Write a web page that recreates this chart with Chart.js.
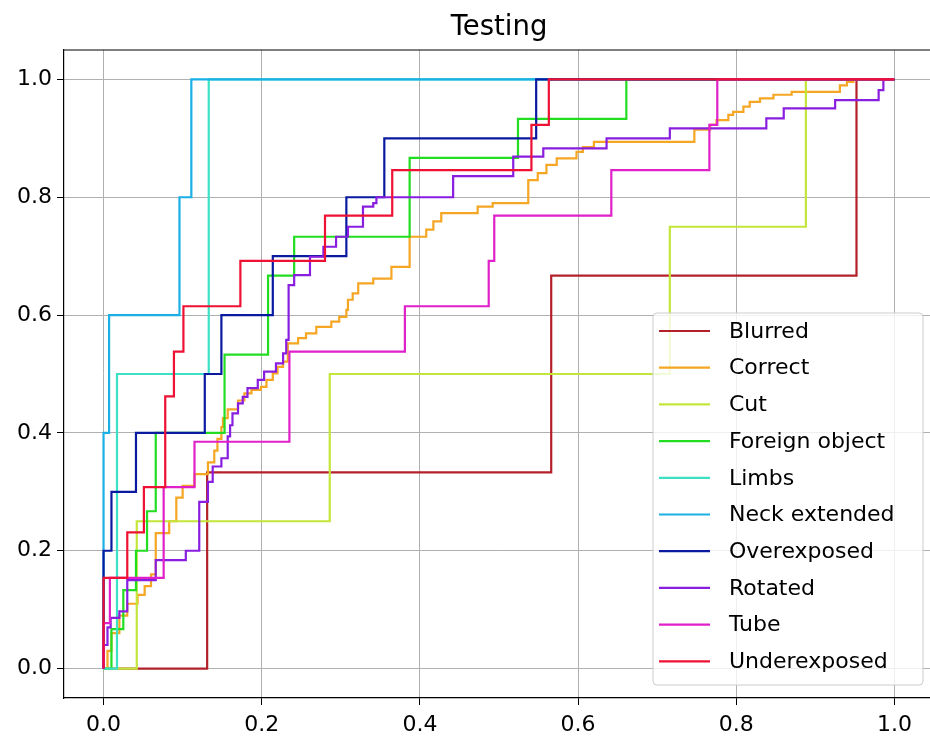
<!DOCTYPE html>
<html>
<head>
<meta charset="utf-8">
<script src="https://cdn.jsdelivr.net/npm/chart.js@4.4.1/dist/chart.umd.min.js"></script>
<style>
  html, body { margin: 0; padding: 0; background: #fff; overflow: hidden; }
  #wrap { width: 940px; height: 740px; }
</style>
</head>
<body>
<div id="wrap"><canvas id="roc" width="940" height="740"></canvas></div>
<script>
// classes and their line colours
const labels = ['Blurred', 'Correct', 'Cut', 'Foreign object', 'Limbs', 'Neck extended',
                'Overexposed', 'Rotated', 'Tube', 'Underexposed'];
const colors = ['#b3202a', '#f5a623', '#c4e63a', '#22dd22', '#3ce0c4', '#1ab0e6',
                '#0a1aa0', '#8a1ee0', '#e020c8', '#ee1133'];

const xTicks = [0.0, 0.2, 0.4, 0.6, 0.8, 1.0];
const yTicks = [0.0, 0.2, 0.4, 0.6, 0.8, 1.0];

// ROC vertices (false positive rate / true positive rate)
const blurredFpr = [0, 0.131, 0.131, 0.566, 0.566, 0.952, 0.952, 1];
const blurredTpr = [0, 0, 0.333, 0.333, 0.667, 0.667, 1, 1];

const correctFpr = [0, 0.005, 0.005, 0.01, 0.01, 0.02, 0.02, 0.03, 0.03, 0.043, 0.043, 0.052, 0.052, 0.06, 0.06,
  0.066, 0.066, 0.083, 0.083, 0.092, 0.092, 0.1, 0.1, 0.115, 0.115, 0.132, 0.132, 0.14, 0.14, 0.144, 0.144,
  0.149, 0.149, 0.151, 0.151, 0.157, 0.157, 0.17, 0.17, 0.178, 0.178, 0.187, 0.187, 0.199, 0.199, 0.206, 0.206,
  0.214, 0.214, 0.22, 0.22, 0.227, 0.227, 0.233, 0.233, 0.246, 0.246, 0.256, 0.256, 0.269, 0.269, 0.288, 0.288,
  0.298, 0.298, 0.307, 0.307, 0.309, 0.309, 0.315, 0.315, 0.322, 0.322, 0.341, 0.341, 0.364, 0.364, 0.387, 0.387,
  0.408, 0.408, 0.417, 0.417, 0.427, 0.427, 0.473, 0.473, 0.492, 0.492, 0.537, 0.537, 0.549, 0.549, 0.56, 0.56,
  0.573, 0.573, 0.598, 0.598, 0.606, 0.606, 0.62, 0.62, 0.747, 0.747, 0.767, 0.767, 0.775, 0.775, 0.79, 0.79,
  0.796, 0.796, 0.809, 0.809, 0.817, 0.817, 0.83, 0.83, 0.847, 0.847, 0.87, 0.87, 0.931, 0.931, 0.94, 0.94,
  0.948, 0.948, 1];
const correctTpr = [0, 0, 0.03, 0.03, 0.06, 0.06, 0.09, 0.09, 0.11, 0.11, 0.125, 0.125, 0.14, 0.14, 0.16,
  0.16, 0.23, 0.23, 0.25, 0.25, 0.29, 0.29, 0.31, 0.31, 0.33, 0.33, 0.35, 0.35, 0.37, 0.37, 0.39,
  0.39, 0.41, 0.41, 0.425, 0.425, 0.44, 0.44, 0.455, 0.455, 0.467, 0.467, 0.473, 0.473, 0.478, 0.478, 0.49,
  0.49, 0.501, 0.501, 0.512, 0.512, 0.521, 0.521, 0.552, 0.552, 0.561, 0.561, 0.569, 0.569, 0.58, 0.58, 0.589,
  0.589, 0.597, 0.597, 0.609, 0.609, 0.626, 0.626, 0.637, 0.637, 0.654, 0.654, 0.662, 0.662, 0.682, 0.682, 0.733,
  0.733, 0.745, 0.745, 0.759, 0.759, 0.773, 0.773, 0.784, 0.784, 0.79, 0.79, 0.829, 0.829, 0.841, 0.841, 0.855,
  0.855, 0.866, 0.866, 0.877, 0.877, 0.885, 0.885, 0.894, 0.894, 0.915, 0.915, 0.923, 0.923, 0.931, 0.931, 0.94,
  0.94, 0.945, 0.945, 0.954, 0.954, 0.962, 0.962, 0.968, 0.968, 0.974, 0.974, 0.979, 0.979, 0.99, 0.99, 0.996,
  0.996, 1, 1];

const cutFpr = [0, 0.042, 0.042, 0.286, 0.286, 0.716, 0.716, 0.888, 0.888, 1];
const cutTpr = [0, 0, 0.25, 0.25, 0.5, 0.5, 0.75, 0.75, 1, 1];

const foreignFpr = [0, 0.01, 0.01, 0.025, 0.025, 0.041, 0.041, 0.055, 0.055, 0.066, 0.066, 0.153, 0.153,
  0.208, 0.208, 0.241, 0.241, 0.387, 0.387, 0.524, 0.524, 0.661, 0.661, 1];
const foreignTpr = [0, 0, 0.067, 0.067, 0.133, 0.133, 0.2, 0.2, 0.267, 0.267, 0.4, 0.4, 0.533,
  0.533, 0.667, 0.667, 0.733, 0.733, 0.867, 0.867, 0.933, 0.933, 1, 1];

const limbsFpr = [0, 0.017, 0.017, 0.133, 0.133, 1];
const limbsTpr = [0, 0, 0.5, 0.5, 1, 1];

const neckFpr = [0, 0, 0.007, 0.007, 0.096, 0.096, 0.111, 0.111, 1];
const neckTpr = [0, 0.4, 0.4, 0.6, 0.6, 0.8, 0.8, 1, 1];

const overFpr = [0, 0, 0.01, 0.01, 0.041, 0.041, 0.128, 0.128, 0.149, 0.149, 0.214, 0.214, 0.307, 0.307,
  0.355, 0.355, 0.547, 0.547, 1];
const overTpr = [0, 0.2, 0.2, 0.3, 0.3, 0.4, 0.4, 0.5, 0.5, 0.6, 0.6, 0.7, 0.7, 0.8,
  0.8, 0.9, 0.9, 1, 1];

const rotatedFpr = [0, 0, 0.005, 0.005, 0.009, 0.009, 0.02, 0.02, 0.03, 0.03, 0.066, 0.066, 0.104, 0.104,
  0.121, 0.121, 0.132, 0.132, 0.138, 0.138, 0.149, 0.149, 0.157, 0.157, 0.16, 0.16, 0.163, 0.163, 0.17, 0.17,
  0.176, 0.176, 0.182, 0.182, 0.195, 0.195, 0.203, 0.203, 0.218, 0.218, 0.227, 0.227, 0.231, 0.231, 0.234, 0.234,
  0.241, 0.241, 0.261, 0.261, 0.278, 0.278, 0.294, 0.294, 0.309, 0.309, 0.328, 0.328, 0.341, 0.341, 0.345, 0.345,
  0.442, 0.442, 0.518, 0.518, 0.556, 0.556, 0.636, 0.636, 0.716, 0.716, 0.838, 0.838, 0.86, 0.86, 0.925, 0.925,
  0.98, 0.98, 0.986, 0.986, 1];
const rotatedTpr = [0, 0.04, 0.04, 0.07, 0.07, 0.086, 0.086, 0.097, 0.097, 0.15, 0.15, 0.184, 0.184, 0.2,
  0.2, 0.283, 0.283, 0.317, 0.317, 0.343, 0.343, 0.357, 0.357, 0.394, 0.394, 0.413, 0.413, 0.433, 0.433, 0.45,
  0.45, 0.461, 0.461, 0.476, 0.476, 0.49, 0.49, 0.504, 0.504, 0.518, 0.518, 0.535, 0.535, 0.558, 0.558, 0.651,
  0.651, 0.668, 0.668, 0.699, 0.699, 0.716, 0.716, 0.733, 0.733, 0.75, 0.75, 0.784, 0.784, 0.79, 0.79, 0.8,
  0.8, 0.836, 0.836, 0.869, 0.869, 0.883, 0.883, 0.9, 0.9, 0.917, 0.917, 0.934, 0.934, 0.951, 0.951, 0.965,
  0.965, 0.982, 0.982, 1, 1];

const tubeFpr = [0, 0, 0.008, 0.008, 0.076, 0.076, 0.115, 0.115, 0.235, 0.235, 0.381, 0.381, 0.487, 0.487,
  0.494, 0.494, 0.642, 0.642, 0.766, 0.766, 0.776, 0.776, 1];
const tubeTpr = [0, 0.077, 0.077, 0.154, 0.154, 0.308, 0.308, 0.385, 0.385, 0.538, 0.538, 0.615, 0.615, 0.692,
  0.692, 0.769, 0.769, 0.846, 0.846, 0.923, 0.923, 1, 1];

const underFpr = [0, 0, 0.03, 0.03, 0.051, 0.051, 0.078, 0.078, 0.089, 0.089, 0.101, 0.101, 0.173, 0.173,
  0.28, 0.28, 0.365, 0.365, 0.541, 0.541, 0.563, 0.563, 1];
const underTpr = [0, 0.154, 0.154, 0.231, 0.231, 0.308, 0.308, 0.462, 0.462, 0.538, 0.538, 0.615, 0.615, 0.692,
  0.692, 0.769, 0.769, 0.846, 0.846, 0.923, 0.923, 1, 1];

const fprList = [blurredFpr, correctFpr, cutFpr, foreignFpr, limbsFpr, neckFpr, overFpr, rotatedFpr, tubeFpr, underFpr];
const tprList = [blurredTpr, correctTpr, cutTpr, foreignTpr, limbsTpr, neckTpr, overTpr, rotatedTpr, tubeTpr, underTpr];

Chart.defaults.font.family = '"DejaVu Sans", sans-serif';
Chart.defaults.color = '#000';

const datasets = labels.map((name, i) => ({
    label: name,
    data: fprList[i].map((x, k) => ({ x: x, y: tprList[i][k] })),
    borderColor: colors[i],
    backgroundColor: colors[i],
    borderWidth: 2.2,
    pointRadius: 0,
    tension: 0,
    fill: false,
    order: labels.length - i   // later classes drawn on top, like matplotlib
}));

// title, top spine and the in-plot legend box
const extras = {
    id: 'extras',
    afterDraw(chart) {
        const ctx = chart.ctx;
        const a = chart.chartArea;
        ctx.save();

        ctx.strokeStyle = '#000';
        ctx.lineWidth = 1.2;
        ctx.beginPath();
        ctx.moveTo(a.left, a.top);
        ctx.lineTo(a.right, a.top);
        ctx.stroke();

        ctx.fillStyle = '#000';
        ctx.font = '27.5px "DejaVu Sans"';
        ctx.textAlign = 'center';
        ctx.textBaseline = 'alphabetic';
        ctx.fillText('Testing', (a.left + a.right) / 2, 35);

        const bw = 270, bh = 372;
        const bx = a.right - 11 - bw, by = a.bottom - 13 - bh;
        ctx.beginPath();
        ctx.roundRect(bx, by, bw, bh, 4);
        ctx.fillStyle = 'rgba(255,255,255,0.8)';
        ctx.fill();
        ctx.strokeStyle = '#cccccc';
        ctx.lineWidth = 1;
        ctx.stroke();

        ctx.font = '22px "DejaVu Sans"';
        ctx.textAlign = 'left';
        ctx.textBaseline = 'middle';
        chart.data.datasets.forEach((ds, i) => {
            const y = by + 18 + i * 36.7;
            ctx.strokeStyle = ds.borderColor;
            ctx.lineWidth = 2.2;
            ctx.beginPath();
            ctx.moveTo(bx + 6, y);
            ctx.lineTo(bx + 57, y);
            ctx.stroke();
            ctx.fillStyle = '#000';
            ctx.fillText(ds.label, bx + 76, y + 1);
        });
        ctx.restore();
    }
};

new Chart(document.getElementById('roc'), {
    type: 'line',
    data: { datasets: datasets },
    options: {
        responsive: false,
        animation: false,
        events: [],
        devicePixelRatio: 1,
        layout: { padding: { top: 50, right: 6, left: 0, bottom: 0 } },
        plugins: { legend: { display: false }, tooltip: { enabled: false } },
        scales: {
            x: {
                type: 'linear',
                min: -0.05,
                max: 1.05,
                afterBuildTicks: s => { s.ticks = xTicks.map(v => ({ value: v })); },
                afterFit: s => { s.height = 42; },
                ticks: { callback: v => v.toFixed(1), font: { size: 22 }, padding: 7, maxRotation: 0, autoSkip: false },
                grid: { color: '#b0b0b0', lineWidth: 1, tickLength: 7, tickColor: '#000' },
                border: { color: '#000', width: 1.2 }
            },
            y: {
                type: 'linear',
                min: -0.05,
                max: 1.05,
                afterBuildTicks: s => { s.ticks = yTicks.map(v => ({ value: v })); },
                afterFit: s => { s.width = 64; },
                ticks: { callback: v => v.toFixed(1), font: { size: 22 }, padding: 5, autoSkip: false },
                grid: { color: '#b0b0b0', lineWidth: 1, tickLength: 7, tickColor: '#000' },
                border: { color: '#000', width: 1.2 }
            }
        }
    },
    plugins: [extras]
});
</script>
</body>
</html>
